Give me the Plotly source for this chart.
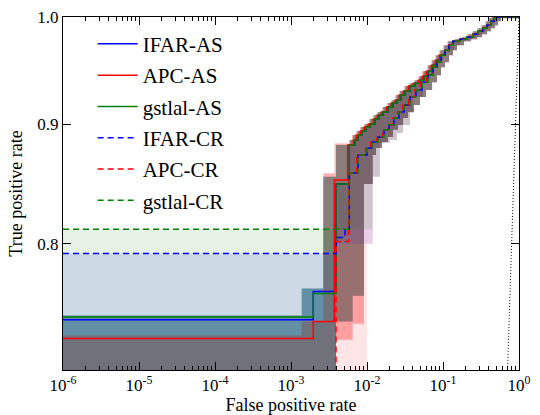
import math
import plotly.graph_objects as go

# ---------------- data ----------------
AS_MID_x = [5.85e-3, 6.955e-3, 7.615e-3, 8.60e-3, 9.70e-3, 1.095e-2, 1.274e-2, 1.438e-2, 1.623e-2,
            1.889e-2, 2.198e-2, 2.48e-2, 2.80e-2, 3.162e-2, 3.68e-2, 4.28e-2, 4.98e-2, 5.62e-2,
            6.35e-2, 7.39e-2, 8.34e-2, 9.41e-2]
AS_MID_y = [0.8816, 0.8860, 0.8904, 0.8940, 0.8975, 0.9000, 0.9045, 0.9081, 0.9108, 0.9152, 0.9188,
            0.9215, 0.9261, 0.9297, 0.9343, 0.9370, 0.9397, 0.9434, 0.9481, 0.9537, 0.9584, 0.9631]
APC_AS_MID_x = [5.56e-3, 6.61e-3, 7.23e-3, 8.17e-3, 9.22e-3, 1.04e-2, 1.21e-2, 1.366e-2, 1.542e-2,
                1.795e-2, 2.088e-2, 2.356e-2, 2.66e-2, 3.004e-2, 3.496e-2, 4.066e-2, 4.731e-2,
                5.339e-2, 6.033e-2, 7.02e-2, 7.92e-2, 8.94e-2]
CR_MID_x = [5.85e-3, 7.615e-3, 1.0e-2, 1.163e-2, 1.396e-2, 1.674e-2, 1.948e-2, 2.266e-2, 2.637e-2,
            3.068e-2, 3.68e-2, 4.41e-2, 5.29e-2, 6.35e-2, 7.39e-2, 8.34e-2, 9.41e-2]
CR_MID_y = [0.8577, 0.8731, 0.8790, 0.8843, 0.8887, 0.8949, 0.8991, 0.9054, 0.9108, 0.9170, 0.9242,
            0.9306, 0.9379, 0.9444, 0.9518, 0.9565, 0.9631]
APC_CR_MID_x = [5.75e-3, 7.3e-3, 9.6e-3, 1.12e-2, 1.34e-2, 1.6e-2, 1.87e-2, 2.17e-2, 2.53e-2, 2.94e-2,
                3.53e-2, 4.23e-2, 5.07e-2, 6.09e-2, 7.09e-2, 8.0e-2, 9.03e-2]
TAIL_x = [0.1062, 0.1199, 0.1354, 0.1674, 0.2069, 0.248, 0.2888, 0.336, 0.379, 0.428, 0.469, 0.513, 1.0]
TAIL_y = [0.9678, 0.9726, 0.9764, 0.9783, 0.9803, 0.9832, 0.9861, 0.9890, 0.9919, 0.9958, 0.9987, 1.0, 1.0]

IFAR_AS_head_x = [1e-6, 1.965e-3, 3.909e-3]
IFAR_AS_head_y = [0.7425, 0.7634, 0.8484]
GSTLAL_AS_head_x = [1e-6, 1.965e-3, 3.909e-3]
GSTLAL_AS_head_y = [0.7445, 0.7618, 0.8484]
APC_AS_head_x = [1e-6, 1.965e-3, 3.713e-3]
APC_AS_head_y = [0.7289, 0.7412, 0.8518]
IFAR_CR_head_x = [1e-6, 3.909e-3, 5.135e-3]
IFAR_CR_head_y = [0.7925, 0.8050, 0.8116]
GSTLAL_CR_head_x = [1e-6]
GSTLAL_CR_head_y = [0.8116]
APC_CR_head_x = [1e-6, 3.909e-3]
APC_CR_head_y = [0.70, 0.8018]

AS_UP_x = [1e-6, 1.383e-3, 2.66e-3, 3.909e-3, 6.0e-3, 6.6e-3, 7.5e-3, 8.4e-3, 9.5e-3, 1.1e-2, 1.25e-2,
           1.41e-2, 1.64e-2, 1.91e-2, 2.16e-2, 2.44e-2, 2.75e-2, 3.2e-2, 3.72e-2, 4.33e-2, 4.89e-2,
           5.52e-2, 6.43e-2, 7.26e-2, 8.19e-2, 9.24e-2, 0.1043, 0.1178, 0.1456, 0.18, 0.2158, 0.2513,
           0.2923, 0.3297, 0.3724, 0.408, 0.4463, 1.0]
AS_UP_y = [0.7455, 0.7655, 0.8546, 0.8816, 0.8860, 0.8904, 0.8940, 0.8975, 0.9000, 0.9045, 0.9081,
           0.9108, 0.9152, 0.9188, 0.9215, 0.9261, 0.9297, 0.9343, 0.9370, 0.9397, 0.9434, 0.9481,
           0.9537, 0.9584, 0.9631, 0.9678, 0.9726, 0.9764, 0.9783, 0.9803, 0.9832, 0.9861, 0.9890,
           0.9919, 0.9958, 0.9987, 1.0, 1.0]
APC_AS_UP_x = [1e-6, 1.383e-3, 2.66e-3, 3.75e-3, 5.8e-3, 6.35e-3, 7.2e-3, 8.1e-3, 9.1e-3, 1.06e-2,
               1.2e-2, 1.36e-2, 1.58e-2, 1.84e-2, 2.08e-2, 2.35e-2, 2.65e-2, 3.08e-2, 3.58e-2, 4.17e-2,
               4.71e-2, 5.32e-2, 6.2e-2, 7.0e-2, 7.9e-2, 8.9e-2, 0.1005, 0.1135, 0.1403, 0.1735, 0.208,
               0.2422, 0.2817, 0.3178, 0.3589, 0.3932, 0.4301, 1.0]
APC_AS_UP_y = [0.7310, 0.7412, 0.8575, 0.8830, 0.8860, 0.8904, 0.8940, 0.8975, 0.9000, 0.9045, 0.9081,
               0.9108, 0.9152, 0.9188, 0.9215, 0.9261, 0.9297, 0.9343, 0.9370, 0.9397, 0.9434, 0.9481,
               0.9537, 0.9584, 0.9631, 0.9678, 0.9726, 0.9764, 0.9783, 0.9803, 0.9832, 0.9861, 0.9890,
               0.9919, 0.9958, 0.9987, 1.0, 1.0]
AS_LO_x = [1e-6, 3.909e-3, 6.48e-3, 9.13e-3, 1.19e-2, 1.314e-2, 1.577e-2, 1.89e-2, 2.2e-2, 2.56e-2,
           2.98e-2, 3.47e-2, 4.16e-2, 4.98e-2, 5.98e-2, 7.18e-2, 8.35e-2, 9.42e-2, 0.1063, 0.12, 0.1355,
           0.153, 0.1892, 0.2338, 0.2802, 0.3263, 0.3797, 0.4283, 0.4836, 0.53, 0.58, 1.0]
AS_LO_y = [0.60, 0.7412, 0.7602, 0.8484, 0.8731, 0.8790, 0.8843, 0.8887, 0.8949, 0.8991, 0.9054,
           0.9108, 0.9170, 0.9242, 0.9306, 0.9379, 0.9444, 0.9518, 0.9565, 0.9631, 0.9678, 0.9726,
           0.9764, 0.9783, 0.9803, 0.9832, 0.9861, 0.9890, 0.9919, 0.9958, 0.9987, 1.0]
APC_AS_LO_y = [0.60, 0.7279, 0.7395, 0.8484, 0.8731, 0.8790, 0.8843, 0.8887, 0.8949, 0.8991, 0.9054,
               0.9108, 0.9170, 0.9242, 0.9306, 0.9379, 0.9444, 0.9518, 0.9565, 0.9631, 0.9678, 0.9726,
               0.9764, 0.9783, 0.9803, 0.9832, 0.9861, 0.9890, 0.9919, 0.9958, 0.9987, 1.0]
CR_UP_x = [1e-6, 3.909e-3] + AS_MID_x + TAIL_x
IFAR_CR_UP_y = [0.7925, 0.8484] + AS_MID_y + TAIL_y
GSTLAL_CR_UP_y = [0.8116, 0.8484] + AS_MID_y + TAIL_y
APC_CR_UP_y = [0.65, 0.8518] + AS_MID_y + TAIL_y
CR_LO_x = [1e-6, 3.909e-3, 1.19e-2, 1.48e-2, 2.0e-2, 2.48e-2, 2.98e-2, 3.68e-2, 4.03e-2, 5.46e-2,
           6.74e-2, 8.34e-2, 0.1, 0.125, 0.14, 0.165, 0.2, 0.24, 0.285, 0.33, 0.37, 0.42, 0.465, 0.51,
           0.56, 1.0]
IFAR_CR_LO_y = [0.60, 0.80, 0.8546, 0.8834, 0.8860, 0.8922, 0.8991, 0.9099, 0.9242, 0.9397, 0.9509,
                0.9584, 0.9659, 0.9678, 0.9726, 0.9764, 0.9783, 0.9803, 0.9832, 0.9861, 0.9890,
                0.9919, 0.9958, 0.9987, 1.0, 1.0]
GSTLAL_CR_LO_y = [0.60, 0.8116, 0.8546, 0.8834, 0.8860, 0.8922, 0.8991, 0.9099, 0.9242, 0.9397,
                  0.9509, 0.9584, 0.9659, 0.9678, 0.9726, 0.9764, 0.9783, 0.9803, 0.9832, 0.9861,
                  0.9890, 0.9919, 0.9958, 0.9987, 1.0, 1.0]
APC_CR_LO_x = [1e-6, 1.0e-2] + CR_LO_x[2:]
APC_CR_LO_y = [0.60, 0.80] + IFAR_CR_LO_y[2:]

X_TICKS = [1e-6, 1e-5, 1e-4, 1e-3, 1e-2, 1e-1, 1e0]
X_TICK_TEXT = ["10<sup>-6</sup>", "10<sup>-5</sup>", "10<sup>-4</sup>", "10<sup>-3</sup>",
               "10<sup>-2</sup>", "10<sup>-1</sup>", "10<sup>0</sup>"]
Y_TICKS = [0.8, 0.9, 1.0]
Y_TICK_TEXT = ["0.8", "0.9", "1.0"]
Y_MIN = 0.7066

BLUE, RED, GREEN = "#0000ff", "#ff0000", "#008000"
FONT = "Liberation Serif, Times New Roman, serif"


def steps(xs, ys):
    px, py = [], []
    for i in range(len(xs)):
        if i > 0:
            px.append(xs[i]); py.append(ys[i - 1])
        px.append(xs[i]); py.append(ys[i])
    return px, py


def band(fig, ux, uy, lx, ly, rgba):
    ax, ay = steps(ux, uy)
    bx, by = steps(lx, ly)
    fig.add_trace(go.Scatter(x=ax + bx[::-1], y=ay + by[::-1], mode="lines", fill="toself",
                             fillcolor=rgba, line=dict(width=0), showlegend=False,
                             hoverinfo="skip"))


fig = go.Figure()

band(fig, AS_UP_x, AS_UP_y, AS_LO_x, AS_LO_y, "rgba(0,0,255,0.3)")
band(fig, APC_AS_UP_x, APC_AS_UP_y, AS_LO_x, APC_AS_LO_y, "rgba(255,0,0,0.3)")
band(fig, AS_UP_x, AS_UP_y, AS_LO_x, AS_LO_y, "rgba(0,128,0,0.3)")
band(fig, CR_UP_x, IFAR_CR_UP_y, CR_LO_x, IFAR_CR_LO_y, "rgba(0,0,255,0.1)")
band(fig, CR_UP_x, APC_CR_UP_y, APC_CR_LO_x, APC_CR_LO_y, "rgba(255,0,0,0.1)")
band(fig, CR_UP_x, GSTLAL_CR_UP_y, CR_LO_x, GSTLAL_CR_LO_y, "rgba(0,128,0,0.1)")

fig.add_trace(go.Scatter(x=[1e-3, 1.0], y=[1e-3, 1.0], mode="lines",
                         line=dict(color="black", width=1, dash="1px,2px"), showlegend=False,
                         hoverinfo="skip"))

curves = [
    ("IFAR-AS", IFAR_AS_head_x + AS_MID_x + TAIL_x, IFAR_AS_head_y + AS_MID_y + TAIL_y, BLUE, "solid"),
    ("APC-AS", APC_AS_head_x + APC_AS_MID_x + TAIL_x, APC_AS_head_y + AS_MID_y + TAIL_y, RED, "solid"),
    ("gstlal-AS", GSTLAL_AS_head_x + AS_MID_x + TAIL_x, GSTLAL_AS_head_y + AS_MID_y + TAIL_y, GREEN, "solid"),
    ("IFAR-CR", IFAR_CR_head_x + CR_MID_x + TAIL_x, IFAR_CR_head_y + CR_MID_y + TAIL_y, BLUE, "6px,4px"),
    ("APC-CR", APC_CR_head_x + APC_CR_MID_x + TAIL_x, APC_CR_head_y + CR_MID_y + TAIL_y, RED, "6px,4px"),
    ("gstlal-CR", GSTLAL_CR_head_x + CR_MID_x + TAIL_x, GSTLAL_CR_head_y + CR_MID_y + TAIL_y, GREEN, "6px,4px"),
]
for name, xs, ys, col, dash in curves:
    fig.add_trace(go.Scatter(x=xs, y=ys, mode="lines", name=name, legendgroup=name,
                             line=dict(color=col, width=1.5, shape="hv", dash=dash)))

minor_x = [m * 10 ** e for e in range(-6, 0) for m in range(2, 10)]

fig.update_layout(
    width=540, height=415,
    margin=dict(l=63, r=21, t=17, b=45),
    paper_bgcolor="white", plot_bgcolor="white",
    font=dict(family=FONT, color="black"),
    showlegend=True,
    legend=dict(x=0.065, y=0.981, xanchor="left", yanchor="top", bgcolor="rgba(0,0,0,0)",
                font=dict(family=FONT, size=21, color="black"), itemwidth=40,
                tracegroupgap=1),
    xaxis=dict(type="log", range=[-6, 0], showline=True, linecolor="black", linewidth=1,
               mirror="ticks", ticks="inside", ticklen=8, tickcolor="black", automargin=False,
               tickvals=X_TICKS, ticktext=X_TICK_TEXT, tickfont=dict(family=FONT, size=17),
               showgrid=False, zeroline=False,
               minor=dict(ticks="inside", ticklen=4, tickcolor="black", tickvals=minor_x,
                          showgrid=False),
               title=dict(text="False positive rate", font=dict(family=FONT, size=18), standoff=6)),
    yaxis=dict(type="log", range=[math.log10(Y_MIN), 0], showline=True, linecolor="black",
               linewidth=1, mirror="ticks", ticks="inside", ticklen=8, tickcolor="black",
               automargin=False,
               tickvals=Y_TICKS, ticktext=Y_TICK_TEXT, tickfont=dict(family=FONT, size=17),
               showgrid=False, zeroline=False,
               title=dict(text="True positive rate", font=dict(family=FONT, size=18), standoff=10)),
)

fig.write_html("out.html")
